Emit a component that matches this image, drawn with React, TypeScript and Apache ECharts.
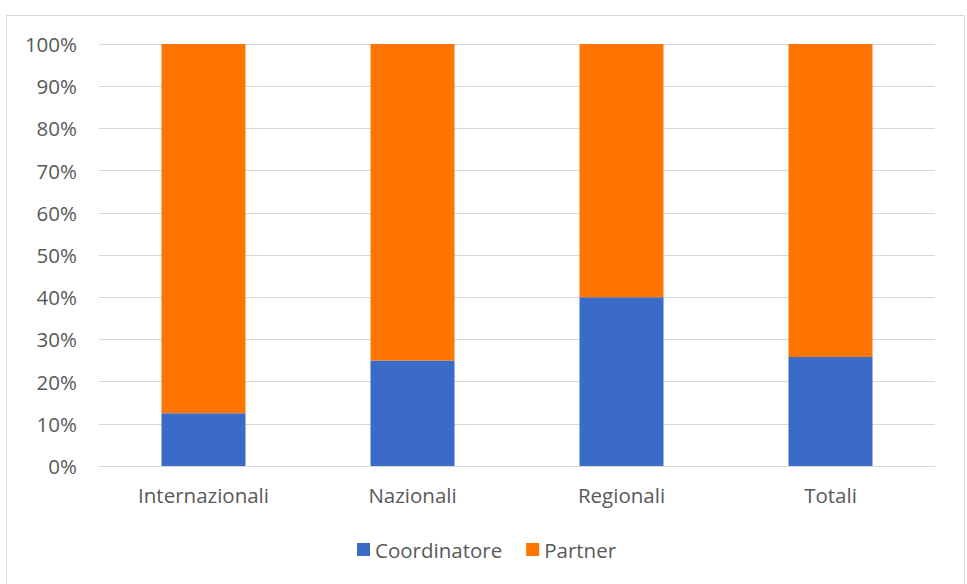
import React, { useEffect, useRef } from "react";
import * as echarts from "echarts";

const categories = ["Internazionali", "Nazionali", "Regionali", "Totali"];
const coordinatore = [12.5, 25, 40, 25.8];
const partner = [87.5, 75, 60, 74.2];
const yTicks = { min: 0, max: 100, interval: 10 };

export default function App() {
  const ref = useRef<HTMLDivElement>(null);
  useEffect(() => {
    if (!ref.current) return;
    const chart = echarts.init(ref.current, undefined, { renderer: "svg" });
    const font = "'Open Sans', 'DejaVu Sans', sans-serif";
    chart.setOption({
      animation: false,
      backgroundColor: "#ffffff",
      graphic: [
        {
          type: "rect",
          shape: { x: 6.5, y: 15.5, width: 958, height: 600 },
          style: { fill: "none", stroke: "#d9d9d9", lineWidth: 1 },
          silent: true,
        },
      ],
      grid: { left: 99, right: 32, top: 44, bottom: 118, containLabel: false },
      legend: {
        data: ["Coordinatore", "Partner"],
        left: 352,
        top: 534,
        itemWidth: 13,
        itemHeight: 13,
        itemGap: 24,
        icon: "rect",
        textStyle: { color: "#595959", fontSize: 20.5, fontFamily: font },
      },
      xAxis: {
        type: "category",
        data: categories,
        axisTick: { show: false },
        axisLine: { lineStyle: { color: "#d9d9d9" } },
        axisLabel: { color: "#595959", fontSize: 20.5, fontFamily: font, margin: 18 },
      },
      yAxis: {
        type: "value",
        min: yTicks.min,
        max: yTicks.max,
        interval: yTicks.interval,
        axisLabel: {
          formatter: "{value}%",
          color: "#595959",
          fontSize: 20.5,
          fontFamily: font,
          margin: 22,
        },
        splitLine: { lineStyle: { color: "#d9d9d9" } },
        axisLine: { show: false },
        axisTick: { show: false },
      },
      series: [
        {
          name: "Coordinatore",
          type: "bar",
          stack: "total",
          barWidth: 84,
          data: coordinatore,
          itemStyle: { color: "#3b6bc9" },
        },
        {
          name: "Partner",
          type: "bar",
          stack: "total",
          barWidth: 84,
          data: partner,
          itemStyle: { color: "#ff7501" },
        },
      ],
    });
    return () => chart.dispose();
  }, []);
  return (
    <div
      ref={ref}
      style={{ position: "fixed", left: 0, top: 0, width: 967, height: 584 }}
    />
  );
}
